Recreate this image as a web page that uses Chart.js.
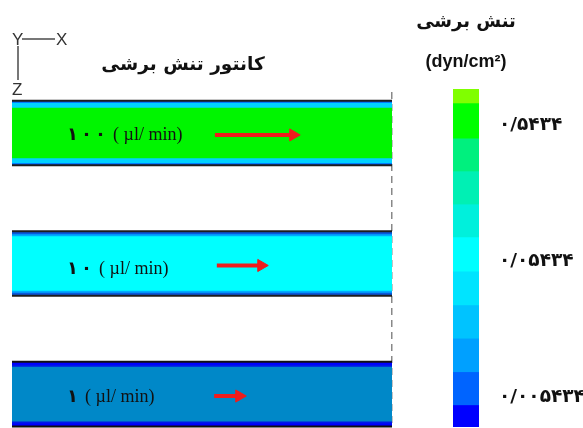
<!DOCTYPE html>
<html lang="fa">
<head>
    <meta charset="UTF-8">
    <title>کانتور تنش برشی</title>
    <script src="https://cdn.jsdelivr.net/npm/chart.js"></script>
    <style>
        body { margin: 0; background: #fff; font-family: "DejaVu Sans", sans-serif; overflow: hidden; }
        .hoja { position: relative; width: 583px; height: 428px; overflow: hidden; }
        #canal { position: absolute; left: 0; top: 0; }
        #barra { position: absolute; left: 440px; top: 0; }
        .txt { position: absolute; white-space: nowrap; color: #111; line-height: 1; transform: translate(-50%, -50%); }
        .eje { position: absolute; font-family: "Liberation Sans", sans-serif; font-size: 17px; color: #333; line-height: 1; }
        .linea { position: absolute; background: #777; }
    </style>
</head>
<body>
<div class="hoja">
    <canvas id="canal" width="400" height="428"></canvas>
    <canvas id="barra" width="143" height="428"></canvas>

    <div class="txt" dir="rtl" style="left:183px; top:64px; font-size:18.5px; font-weight:bold;">کانتور تنش برشی</div>
    <div class="txt" dir="rtl" style="left:466px; top:21px; font-size:18px; font-weight:bold;">تنش برشی</div>
    <div class="txt" style="left:466px; top:61px; font-size:18px; font-weight:bold; font-family:'Liberation Sans', sans-serif;">(dyn/cm²)</div>

    <div class="eje" style="left:12px; top:31px;">Y</div>
    <div class="eje" style="left:56px; top:31px;">X</div>
    <div class="eje" style="left:12px; top:81px;">Z</div>
    <div class="linea" style="left:22px; top:38px; width:33px; height:2px;"></div>
    <div class="linea" style="left:17px; top:46px; width:2px; height:34px;"></div>
</div>

<script>
    // caudales (µl/min) de los tres canales
    const caudales = [100, 10, 1];
    const etiquetasCaudal = ['۱۰۰', '۱۰', '۱'];
    const unidad = '( µl/ min)';

    // flechas rojas: inicio y centro de la punta (fracción del largo del canal)
    const flechaInicio = [0.534, 0.539, 0.532];
    const flechaFin = [0.74, 0.656, 0.598];

    // escala de colores: bordes de cada nivel (dyn/cm²)
    const bordesNivel = [1.0, 0.79, 0.436, 0.25, 0.143, 0.082, 0.046, 0.026, 0.0148, 0.0084, 0.0048, 0.0033];
    const ticksBarra = [0.5434, 0.05434, 0.005434];
    const etiquetasBarra = ['۰/۵۴۳۴', '۰/۰۵۴۳۴', '۰/۰۰۵۴۳۴'];

    // estilos
    const coloresNivel = ['#80ff00', '#00ff00', '#00f07e', '#00f0b4', '#00f0dc', '#00ffff',
                          '#00e4ff', '#00c3ff', '#00a0ff', '#0064ff', '#0000ff'];
    const capas = [
        // [grosor px, colores por canal]
        [66, ['#1e1e1e', '#1e1e1e', '#111111']],
        [62, ['#0064ff', '#0a5adc', '#0000ff']],
        [58, ['#00d2ff', '#00aaff', '#0018e8']]
    ];
    const grosorNucleo = [50, 54, 54];
    const colorNucleo = ['#00f500', '#00ffff', '#0088c8'];
    const rojo = '#f01c1c';

    // sin relleno extra de las escalas
    const sinRelleno = s => { s.paddingTop = 0; s.paddingBottom = 0; s.paddingLeft = 0; s.paddingRight = 0; };

    const datasets = [];
    capas.forEach((capa, k) => {
        caudales.forEach((q, i) => {
            let grosor = capa[0];
            if (k === 2 && i === 0) grosor = 60;
            datasets.push({
                type: 'bar',
                data: [{ x: 1, y: i }],
                backgroundColor: capa[1][i],
                borderWidth: 0,
                barThickness: grosor,
                grouped: false,
                order: 10 - k
            });
        });
    });
    caudales.forEach((q, i) => {
        datasets.push({
            type: 'bar',
            data: [{ x: 1, y: i }],
            backgroundColor: colorNucleo[i],
            borderWidth: 0,
            barThickness: grosorNucleo[i],
            grouped: false,
            order: 5
        });
        datasets.push({
            type: 'line',
            data: [{ x: flechaInicio[i], y: i + 0.015 }, { x: flechaFin[i], y: i + 0.015 }],
            borderColor: rojo,
            borderWidth: 4,
            pointRadius: [0, 7],
            pointStyle: 'triangle',
            pointRotation: 90,
            pointBackgroundColor: rojo,
            pointBorderColor: rojo,
            pointBorderWidth: 1,
            order: 0
        });
    });

    // texto del caudal dentro de cada canal (dígitos separados, como en la figura)
    const textoCanal = {
        id: 'textoCanal',
        afterDatasetsDraw(chart) {
            const { ctx, scales: { x, y } } = chart;
            ctx.save();
            ctx.fillStyle = '#111';
            ctx.textBaseline = 'middle';
            etiquetasCaudal.forEach((lab, i) => {
                const px = x.getPixelForValue(0.145);
                const py = y.getPixelForValue(i) + [2, 6, 3][i];
                ctx.font = 'bold 18px "DejaVu Sans"';
                const digitos = Array.from(lab);
                digitos.forEach((d, k) => ctx.fillText(d, px + k * 14, py));
                ctx.font = '18px "Liberation Serif"';
                ctx.fillText(unidad, px + digitos.length * 14 + 4, py);
            });
            ctx.restore();
        }
    };

    new Chart(document.getElementById('canal'), {
        type: 'bar',
        data: { datasets: datasets },
        options: {
            indexAxis: 'y',
            responsive: false,
            animation: false,
            layout: { autoPadding: false, padding: { left: 12, right: 8, top: 92, bottom: 0 } },
            plugins: { legend: { display: false }, tooltip: { enabled: false } },
            scales: {
                x: {
                    type: 'linear', min: 0, max: 1, z: 1, offset: false,
                    afterBuildTicks: s => { s.ticks = [{ value: 1 }]; },
                    afterFit: s => { s.height = 0; sinRelleno(s); },
                    ticks: { display: false },
                    grid: { color: '#888', lineWidth: 1.5, drawTicks: false, borderDash: [7, 5] },
                    border: { display: false, dash: [7, 5] }
                },
                y: { type: 'linear', reverse: true, offset: false, min: -0.314, max: 2.26, display: false }
            }
        },
        plugins: [textoCanal]
    });

    new Chart(document.getElementById('barra'), {
        type: 'bar',
        data: {
            labels: ['nivel'],
            datasets: coloresNivel.map((c, i) => ({
                data: [[bordesNivel[i + 1], bordesNivel[i]]],
                backgroundColor: c,
                borderWidth: 0,
                barPercentage: 1,
                categoryPercentage: 1,
                grouped: false
            }))
        },
        options: {
            responsive: false,
            animation: false,
            layout: { padding: { left: 13, top: 89, bottom: 1, right: 0 } },
            plugins: { legend: { display: false }, tooltip: { enabled: false } },
            scales: {
                x: { display: false },
                y: {
                    type: 'logarithmic', position: 'right', offset: false,
                    min: bordesNivel[bordesNivel.length - 1], max: bordesNivel[0],
                    afterBuildTicks: s => { s.ticks = ticksBarra.map(v => ({ value: v })); },
                    afterFit: s => { s.width = 104; sinRelleno(s); },
                    grid: { display: false },
                    border: { display: false },
                    ticks: {
                        autoSkip: false, padding: 12, color: '#111',
                        font: { family: 'DejaVu Sans', size: 18.5, weight: 'bold' },
                        callback: v => etiquetasBarra[ticksBarra.indexOf(v)]
                    }
                }
            }
        }
    });
</script>
</body>
</html>
